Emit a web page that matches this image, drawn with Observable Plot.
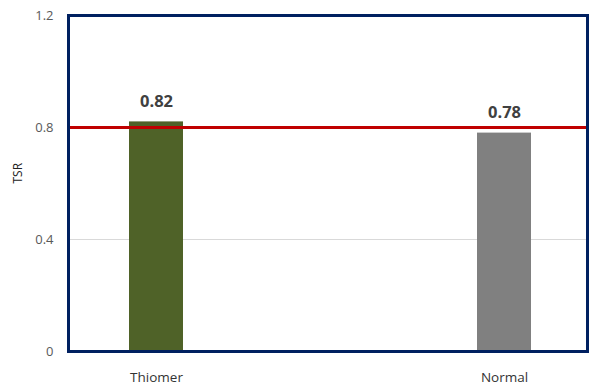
<!DOCTYPE html>
<html>
<head>
<meta charset="utf-8">
<script src="https://cdn.jsdelivr.net/npm/d3@7"></script>
<script src="https://cdn.jsdelivr.net/npm/@observablehq/plot@0.6"></script>
<style>
  html, body { margin: 0; padding: 0; background: #fff; }
  svg { display: block; }
</style>
</head>
<body>
<div id="chart"></div>
<script>
// Bar categories and TSR values
const groups = ["Thiomer", "Normal"];
const tsr = [0.82, 0.78];
const barColors = ["#4f6228", "#808080"];
// Reference threshold and y ticks
const threshold = 0.8;
const yTicks = [0, 0.4, 0.8, 1.2];

const rows = groups.map((g, i) => ({group: g, value: tsr[i], color: barColors[i]}));

const chart = Plot.plot({
  width: 591,
  height: 387,
  marginLeft: 68,
  marginRight: 4,
  marginTop: 15,
  marginBottom: 36,
  style: {fontFamily: "'Open Sans', 'Liberation Sans', sans-serif", fontSize: "13px", color: "#595959", background: "#fff"},
  x: {domain: groups, paddingInner: 0.845, paddingOuter: 0.168, align: 0.52, label: null},
  y: {domain: [0, 1.2], label: null},
  marks: [
    Plot.ruleY([0.4], {stroke: "#d9d9d9", strokeWidth: 1}),
    Plot.barY(rows, {x: "group", y: "value", fill: "color"}),
    Plot.ruleY([threshold], {stroke: "#c00000", strokeWidth: 3}),
    Plot.text(rows, {x: "group", y: "value", text: d => d3.format(".2f")(d.value), dy: -20, fontWeight: "bold", fontSize: 16.5, fill: "#404040"}),
    Plot.frame({stroke: "#002060", strokeWidth: 3}),
    Plot.axisY({ticks: yTicks, tickFormat: d => d === 0 ? "0" : d3.format(".1f")(d), tickSize: 0, tickPadding: 15, label: null, fill: "#595959"}),
    Plot.axisX({tickSize: 0, tickPadding: 21, label: null, fill: "#333", fontSize: 13.5}),
    Plot.text(["TSR"], {frameAnchor: "left", dx: -50, rotate: -90, fontSize: 12, fill: "#222"})
  ]
});
document.getElementById("chart").append(chart);
</script>
</body>
</html>
